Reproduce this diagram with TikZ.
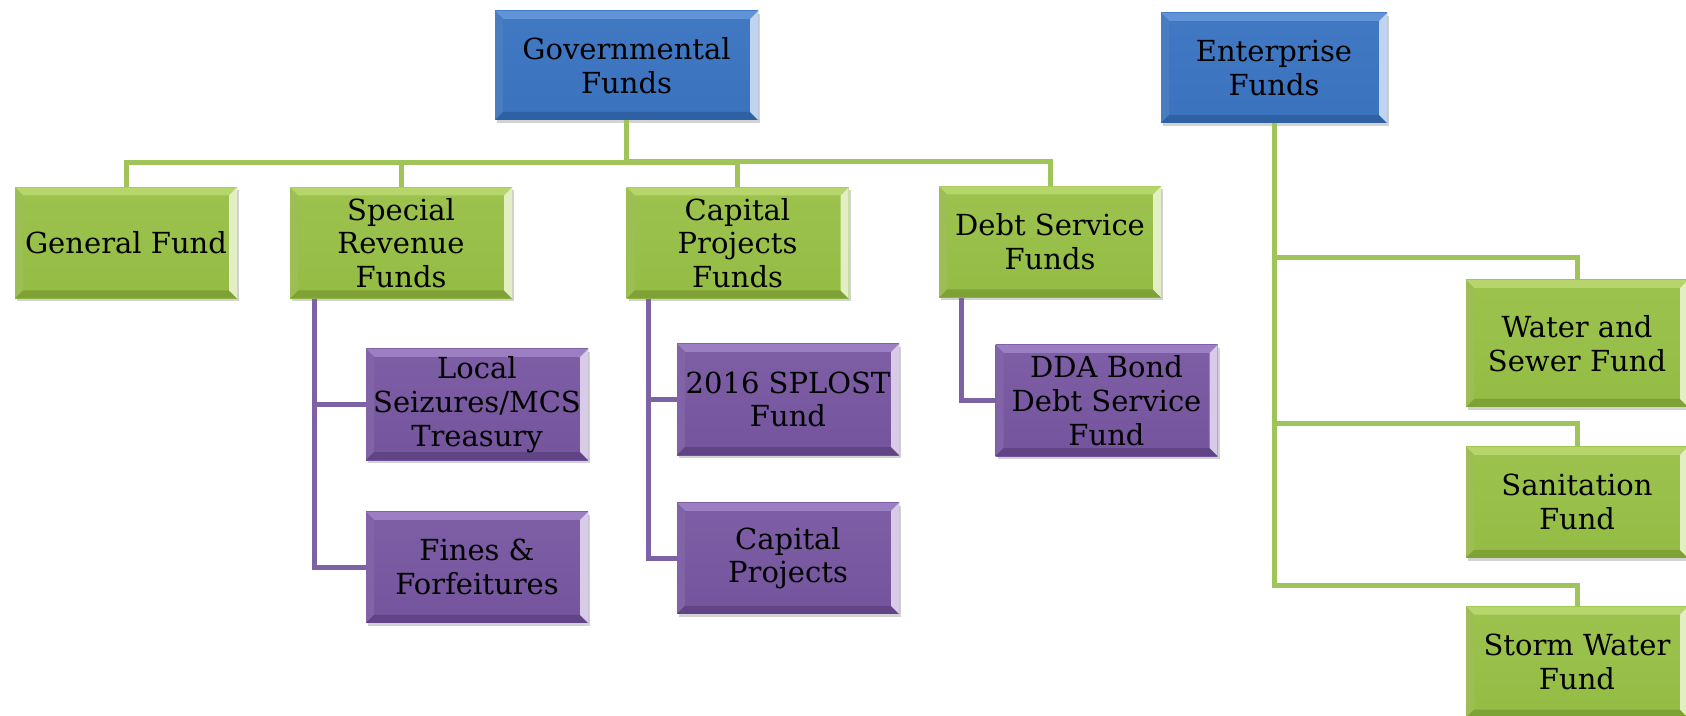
\documentclass[tikz,border=0pt]{standalone}
\usepackage{fontspec}
\setmainfont{DejaVu Serif}
\usetikzlibrary{positioning,shadows}

\definecolor{govblue}{RGB}{58,114,190}
\definecolor{govblueL}{RGB}{96,148,214}
\definecolor{govblueD}{RGB}{46,96,164}
\definecolor{fundgreen}{RGB}{148,188,68}
\definecolor{fundgreenL}{RGB}{182,214,108}
\definecolor{fundgreenD}{RGB}{126,162,54}
\definecolor{subpurple}{RGB}{116,84,156}
\definecolor{subpurpleL}{RGB}{156,126,194}
\definecolor{subpurpleD}{RGB}{96,68,134}
\definecolor{greenline}{RGB}{158,196,90}
\definecolor{purpleline}{RGB}{126,98,166}

% bevelled edges: light top/left, dark bottom, bright right
\newcommand{\fundbevel}[2]{%
  \fill[#1] (path picture bounding box.north west) -- (path picture bounding box.north east)
    -- ([shift={(-4pt,-4pt)}]path picture bounding box.north east) -- ([shift={(4pt,-4pt)}]path picture bounding box.north west) -- cycle;
  \fill[#1!55!#2] (path picture bounding box.north west) -- ([shift={(4pt,-4pt)}]path picture bounding box.north west)
    -- ([shift={(4pt,4pt)}]path picture bounding box.south west) -- (path picture bounding box.south west) -- cycle;
  \fill[#2] (path picture bounding box.south west) -- ([shift={(4pt,4pt)}]path picture bounding box.south west)
    -- ([shift={(-4pt,4pt)}]path picture bounding box.south east) -- (path picture bounding box.south east) -- cycle;
  \fill[#1!40!white] (path picture bounding box.north east) -- ([shift={(-4pt,-4pt)}]path picture bounding box.north east)
    -- ([shift={(-4pt,4pt)}]path picture bounding box.south east) -- (path picture bounding box.south east) -- cycle;
}

\tikzstyle{fund} = [rectangle, minimum width=111pt, minimum height=55.5pt, inner sep=0pt, align=center,
  font={\fontsize{14.5}{16.9}\selectfont}, drop shadow={shadow xshift=1pt, shadow yshift=-1.5pt, opacity=0.35}]
\tikzstyle{top fund} = [fund, top color=govblue!80!govblueL, bottom color=govblue, path picture={\fundbevel{govblueL}{govblueD}}]
\tikzstyle{green fund} = [fund, top color=fundgreen!75!fundgreenL, bottom color=fundgreen, path picture={\fundbevel{fundgreenL}{fundgreenD}}]
\tikzstyle{purple fund} = [fund, top color=subpurple!75!subpurpleL, bottom color=subpurple, path picture={\fundbevel{subpurpleL}{subpurpleD}}]
\tikzstyle{gline} = [draw=greenline, line width=2.5pt]
\tikzstyle{pline} = [draw=purpleline, line width=2.5pt]

\begin{document}
\begin{tikzpicture}[x=0.5pt, y=-0.5pt]
   \useasboundingbox[fill=white] (0,0) rectangle (1686,716);
   % Place nodes
   \node [top fund, minimum width=131.5pt, minimum height=54.5pt] (1) at (626.5,65.5) {Governmental\\Funds};
   \node [top fund, minimum width=113pt, minimum height=55pt] (2) at (1274,68) {Enterprise\\Funds};

   \node [green fund] (3) at (126,243) {General Fund};
   \node [green fund] (4) at (401,243) {Special\\Revenue\\Funds};
   \node [green fund] (5) at (737.5,243) {Capital\\Projects\\Funds};
   \node [green fund] (6) at (1050,242) {Debt Service\\Funds};

   \node [purple fund] (7) at (477,404.5) {Local\\Seizures/MCS\\Treasury};
   \node [purple fund, below = 25.5pt of 7] (8) {Fines \&\\Forfeitures};
   \node [purple fund] (9) at (788,399.5) {2016 SPLOST\\Fund};
   \node [purple fund, below = 23.5pt of 9] (10) {Capital\\Projects};
   \node [purple fund] (11) at (1106.5,400.5) {DDA Bond\\Debt Service\\Fund};

   \node [green fund, minimum height=63.5pt] (12) at (1577,343.5) {Water and\\Sewer Fund};
   \node [green fund, below = 19.5pt of 12] (13) {Sanitation\\Fund};
   \node [green fund, below = 24pt of 13] (14) {Storm Water\\Fund};

   % Governmental branches
   \foreach \n in {3,4,5,6}
     \draw[gline] (1.south) |- ([yshift=12.5pt]\n.north) -- (\n.north);
   % Enterprise branches
   \foreach \n/\h in {12/11pt,13/11.5pt,14/10.5pt}
     \draw[gline] (2.south) |- ([yshift=\h]\n.north) -- (\n.north);

   \draw[pline] ([xshift=12.5pt]4.south west) |- (7.west);
   \draw[pline] ([xshift=12.5pt]4.south west) |- (8.west);
   \draw[pline] ([xshift=11pt]5.south west) |- (9.west);
   \draw[pline] ([xshift=11pt]5.south west) |- (10.west);
   \draw[pline] ([xshift=11.5pt]6.south west) |- (11.west);
\end{tikzpicture}
\end{document}
